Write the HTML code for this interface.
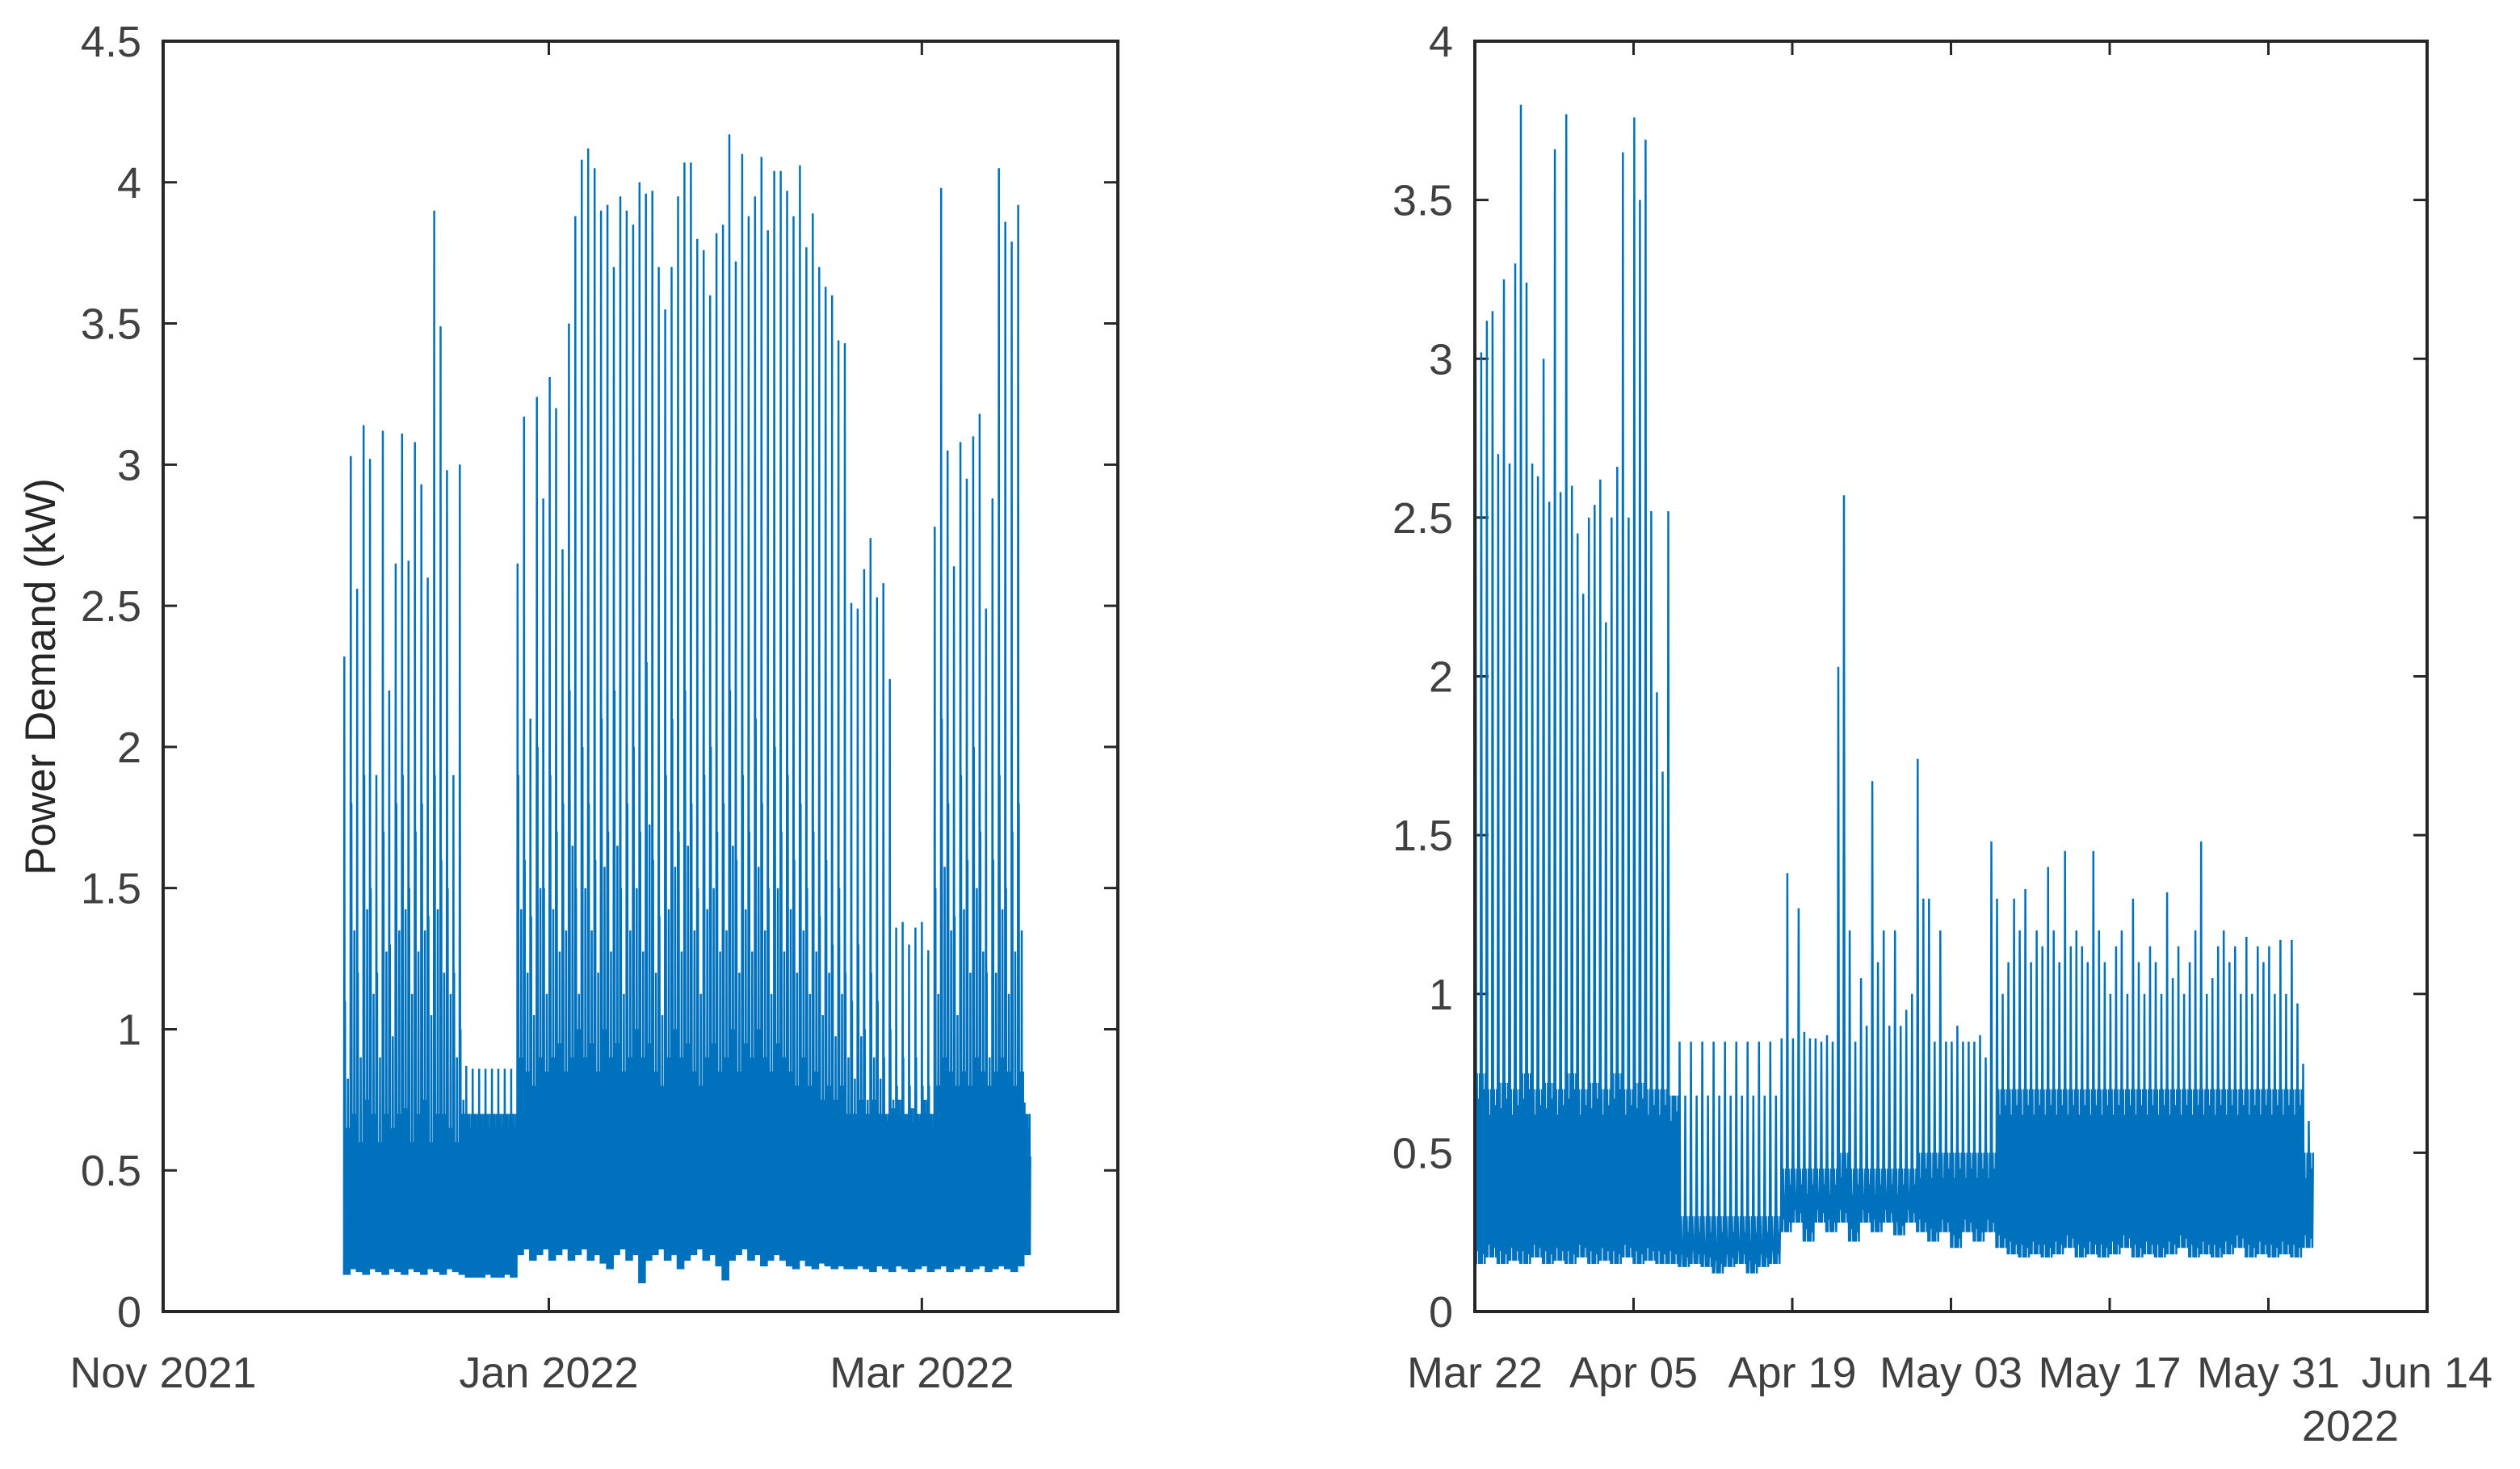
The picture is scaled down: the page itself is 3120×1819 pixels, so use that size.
<!DOCTYPE html>
<html><head><meta charset="utf-8"><style>
html,body{margin:0;padding:0;background:#fff;}
svg{display:block;font-family:"Liberation Sans",Arial,sans-serif;}
</style></head><body>
<svg id="fig" width="3120" height="1819" viewBox="0 0 3120 1819">
<rect width="3120" height="1819" fill="#fff"/>
<g id="left"></g>
<g id="right"></g>
<text x="54" y="838" transform="rotate(-90 54 838)" text-anchor="middle" dominant-baseline="middle" font-size="53" fill="#262626">Power Demand (kW)</text>
</svg>
<script>
// ---------- DATA ----------
const leftYTicks = [0,0.5,1,1.5,2,2.5,3,3.5,4,4.5];
const leftXTickLabels = ["Nov 2021","Jan 2022","Mar 2022"];
const leftXTickDays = [0,61,120];
const leftStartDay = 28.6;
const leftPeaks = [2.32,3.03,2.56,3.14,3.02,1.9,3.12,2.2,2.65,3.11,2.66,3.08,2.93,2.6,3.9,3.49,2.98,1.9,3.0,0.87,
0.86,0.86,0.86,0.86,0.86,0.86,0.86,2.65,3.17,2.1,3.24,2.88,3.31,3.2,2.7,3.5,3.88,4.08,4.12,4.05,
3.9,3.92,3.7,3.95,3.9,3.85,4.0,3.96,3.97,3.7,3.55,3.7,3.95,4.07,4.07,3.8,3.76,3.6,3.82,3.85,
4.17,3.72,4.1,3.88,3.95,4.09,3.83,4.04,4.04,3.97,3.88,4.06,3.77,3.89,3.7,3.63,3.6,3.44,3.43,2.51,
2.49,2.63,2.74,2.53,2.58,2.24,1.36,1.38,1.3,1.36,1.38,1.28,2.78,3.98,3.05,2.64,3.08,2.95,3.1,3.18,
2.49,2.88,4.05,3.86,3.79,3.92,0.74];
const leftSecond = [1.1,1.8,1.2,1.9,1.5,1.2,1.7,1.3,1.8,1.9,1.5,1.7,1.8,1.4,1.9,1.6,1.5,1.2,1.0,0.7,
0.7,0.7,0.7,0.7,0.7,0.7,0.7,1.9,1.6,1.4,2.0,1.5,1.9,1.7,1.8,2.2,1.5,2.0,1.8,1.6,
2.1,1.7,2.2,1.5,1.8,2.0,1.7,2.3,1.6,1.4,1.9,2.1,1.7,2.2,1.8,1.5,1.9,2.0,1.7,1.8,
2.2,1.6,1.9,1.7,2.1,1.8,1.5,2.0,1.7,1.9,1.6,1.8,1.5,1.7,1.4,1.6,1.3,1.5,1.2,1.1,
1.3,1.0,1.2,1.1,0.9,1.0,0.8,0.9,0.8,0.9,0.8,0.8,1.5,2.1,1.8,1.4,1.9,1.6,2.0,1.7,
1.2,1.6,1.9,1.5,1.7,1.8,0.5];
const leftBand = [0.65,0.7,0.6,0.75,0.7,0.6,0.7,0.65,0.7,0.72,0.6,0.7,0.75,0.6,0.7,0.7,0.65,0.6,0.7,0.7,
0.7,0.7,0.7,0.7,0.7,0.7,0.7,0.9,0.85,0.8,0.9,0.85,0.9,0.95,0.85,0.9,1.0,0.9,0.95,0.85,
1.0,0.9,0.95,0.85,0.9,1.0,0.9,0.95,0.85,0.8,0.9,1.0,0.9,0.95,0.85,0.8,0.9,0.95,0.85,0.9,
1.0,0.85,0.95,0.9,1.0,0.9,0.85,0.95,0.9,0.85,0.8,0.9,0.8,0.85,0.75,0.8,0.75,0.8,0.7,0.7,
0.75,0.7,0.75,0.7,0.7,0.72,0.75,0.7,0.72,0.7,0.75,0.7,0.8,0.9,0.85,0.8,0.85,0.8,0.9,0.85,
0.8,0.85,0.9,0.85,0.8,0.85,0.7];
const leftLow = [0.13,0.15,0.14,0.13,0.15,0.14,0.13,0.15,0.14,0.13,0.15,0.14,0.13,0.15,0.14,0.13,0.15,0.14,0.13,0.12,
0.12,0.12,0.13,0.12,0.12,0.13,0.12,0.2,0.22,0.18,0.2,0.22,0.18,0.2,0.22,0.18,0.2,0.22,0.18,0.2,
0.17,0.15,0.2,0.22,0.18,0.2,0.1,0.18,0.2,0.22,0.18,0.2,0.15,0.18,0.2,0.22,0.18,0.2,0.16,0.11,
0.18,0.2,0.22,0.18,0.2,0.16,0.18,0.2,0.18,0.16,0.15,0.18,0.16,0.15,0.17,0.16,0.15,0.16,0.15,0.15,
0.16,0.15,0.14,0.16,0.15,0.14,0.16,0.15,0.14,0.15,0.16,0.14,0.15,0.16,0.14,0.15,0.16,0.14,0.15,0.16,
0.14,0.15,0.16,0.15,0.14,0.16,0.2];

const rightYTicks = [0,0.5,1,1.5,2,2.5,3,3.5,4];
const rightXTickLabels = ["Mar 22","Apr 05","Apr 19","May 03","May 17","May 31","Jun 14"];
const rightXTickDays = [0,14,28,42,56,70,84];
const rightPeakA = [3.0,3.12,2.7,2.67,3.8,2.67,3.0,3.66,3.77,2.45,2.5,2.62,2.5,3.65,3.76,3.69,1.95,2.52,
0.85,0.85,0.85,0.85,0.85,0.85,0.85,0.85,0.85,0.86,0.86,0.88,0.86,0.87,2.03,1.2,1.05,1.67,1.2,1.2,0.95,1.74,
1.3,1.2,0.85,0.85,0.85,0.8,1.3,1.1,1.2,1.1,1.15,1.2,1.45,1.2,1.1,1.2,1.0,1.2,1.3,1.0,
1.1,1.32,1.15,1.1,1.48,1.05,1.2,1.15,1.18,1.15,1.15,1.17,1.17,0.78];
const rightPeakB = [3.02,3.15,3.25,3.3,3.24,2.63,2.55,2.58,2.6,2.26,2.54,2.17,2.66,2.5,3.5,2.52,1.7,0.68,
0.68,0.68,0.68,0.68,0.68,0.68,0.68,0.68,0.68,1.38,1.27,0.86,0.85,0.85,2.57,0.85,0.9,1.1,0.9,0.9,1.0,1.3,
0.85,0.85,0.9,0.85,0.87,1.48,1.0,1.3,1.33,1.2,1.4,1.1,1.15,1.15,1.45,1.1,1.15,1.0,1.1,1.15,
1.0,1.05,1.0,1.2,1.0,1.15,1.1,1.0,1.0,1.1,1.0,1.0,0.97,0.6];
const rightLow = [0.15,0.17,0.15,0.16,0.15,0.17,0.15,0.16,0.15,0.17,0.15,0.16,0.15,0.17,0.15,0.16,0.15,0.15,
0.14,0.15,0.14,0.12,0.14,0.15,0.12,0.14,0.15,0.25,0.28,0.22,0.28,0.25,0.28,0.22,0.28,0.25,0.28,0.24,0.28,0.25,
0.22,0.25,0.2,0.25,0.22,0.25,0.2,0.18,0.17,0.18,0.17,0.18,0.2,0.17,0.18,0.17,0.18,0.2,0.17,0.18,
0.17,0.18,0.2,0.17,0.18,0.17,0.18,0.2,0.17,0.18,0.17,0.18,0.17,0.2];
const rightBand = [0.75,0.7,0.72,0.7,0.75,0.7,0.72,0.7,0.75,0.7,0.72,0.7,0.75,0.7,0.72,0.7,0.7,0.68,
0.3,0.3,0.3,0.3,0.3,0.3,0.3,0.3,0.3,0.45,0.45,0.45,0.45,0.45,0.5,0.45,0.45,0.45,0.45,0.45,0.45,0.5,
0.5,0.5,0.5,0.5,0.5,0.5,0.7,0.7,0.7,0.7,0.7,0.7,0.7,0.7,0.7,0.7,0.7,0.7,0.7,0.7,
0.7,0.7,0.7,0.7,0.7,0.7,0.7,0.7,0.7,0.7,0.7,0.7,0.7,0.5];

// ---------- DRAW ----------
const NS = "http://www.w3.org/2000/svg";
const TOP = 51, BOT = 1624;
function mk(tag, attrs, parent){const e=document.createElementNS(NS,tag);for(const k in attrs)e.setAttribute(k,attrs[k]);parent.appendChild(e);return e;}

function axes(g, x0, x1, yMax, yTicks, xDays, xLabels, dayMax){
  const yS = v => BOT - v/yMax*(BOT-TOP);
  const xS = d => x0 + d/dayMax*(x1-x0);
  yTicks.forEach(v=>{
    const y=yS(v);
    const t1=mk("line",{x1:x0,y1:y,x2:x0+17,y2:y,stroke:"#262626","stroke-width":3},g);
    
    
    const t2=mk("line",{x1:x1,y1:y,x2:x1-17,y2:y,stroke:"#262626","stroke-width":3},g);
    
    
    const tx=mk("text",{x:x0-27,y:y+19,"text-anchor":"end","font-size":54,fill:"#404040"},g);
    tx.textContent=String(v);
    
    
  });
  xDays.forEach((d,i)=>{
    const x=xS(d);
    const t1=mk("line",{x1:x,y1:BOT,x2:x,y2:BOT-17,stroke:"#262626","stroke-width":3},g);
    
    
    const t2=mk("line",{x1:x,y1:TOP,x2:x,y2:TOP+17,stroke:"#262626","stroke-width":3},g);
    
    
    const tx=mk("text",{x:x,y:1718,"text-anchor":"middle","font-size":54,fill:"#404040"},g);
    tx.textContent=xLabels[i];
    
    
  });
  return {xS,yS};
}

function frame(g,x0,x1){
  const r=mk("rect",{x:x0,y:TOP,width:x1-x0,height:BOT-TOP,fill:"none",stroke:"#262626","stroke-width":4},g);
  
  
}

// Left chart
const gl=document.getElementById('left');
const L={x0:202,x1:1384,dayMax:151};
const la=axes(gl,L.x0,L.x1,4.5,leftYTicks,leftXTickDays,leftXTickLabels,L.dayMax);
let pts=[];
const lstep=1.015;
leftPeaks.forEach((p,i)=>{
  const d0=leftStartDay+i*lstep, lo=leftLow[i], bd=leftBand[i], s=leftSecond[i];
  const seq=[lo,p,lo+0.03,s,lo,bd,lo+0.05,bd-0.12,lo,bd,lo+0.02,s*0.75,lo,bd-0.05,lo+0.04,bd,lo,bd-0.15];
  seq.forEach((v,k)=>{pts.push(la.xS(d0+k*lstep/seq.length).toFixed(1)+","+la.yS(v).toFixed(1));});
});
const pl=mk("polyline",{points:pts.join(" "),fill:"none",stroke:"#0072BD","stroke-width":2.5},gl);


frame(gl,L.x0,L.x1);

// Right chart
const gr=document.getElementById('right');
const R={x0:1826,x1:3005,dayMax:84};
const ra=axes(gr,R.x0,R.x1,4,rightYTicks,rightXTickDays,rightXTickLabels,R.dayMax);
pts=[];
rightPeakA.forEach((a,i)=>{
  const b=rightPeakB[i], lo=rightLow[i], bd=rightBand[i];
  const seq=[lo,a,lo,bd,lo+0.04,bd-0.08,lo,bd,lo,b,lo,bd,lo+0.03,bd-0.05,lo,bd];
  seq.forEach((v,k)=>{pts.push(ra.xS(i+k/seq.length).toFixed(1)+","+ra.yS(v).toFixed(1));});
});
const pr=mk("polyline",{points:pts.join(" "),fill:"none",stroke:"#0072BD","stroke-width":2.5},gr);


frame(gr,R.x0,R.x1);
const yr=mk("text",{x:2910,y:1784,"text-anchor":"middle","font-size":54,fill:"#404040"},gr);
yr.textContent="2022";


</script>
</body></html>
